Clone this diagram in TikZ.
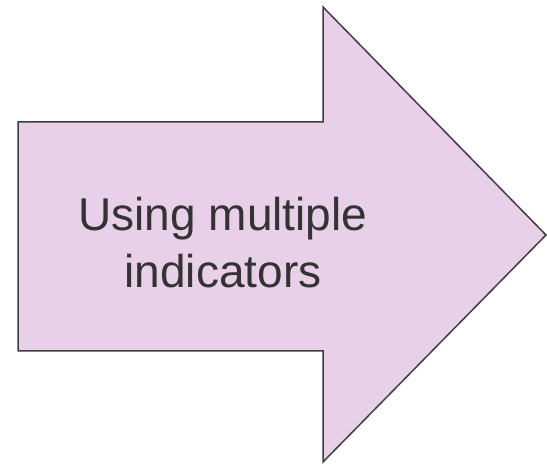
\documentclass[tikz,border=0pt]{standalone}
\usepackage{fontspec}
\setmainfont{Liberation Sans}
\usepackage{tikz}
\usetikzlibrary{positioning}

\definecolor{arrowfill}{HTML}{E8D0E8}
\definecolor{arrowline}{HTML}{3F3F3F}
\definecolor{textgray}{HTML}{333333}

\begin{document}
\begin{tikzpicture}[
    x=1pt, y=-1pt,
    bigarrow/.style={draw=arrowline, fill=arrowfill, line width=1.5pt, line join=miter},
    label/.style={text=textgray, align=center, font=\fontsize{46}{57}\selectfont}
]
    \useasboundingbox (0,0) rectangle (547,465);
    % arrow outline
    \draw[bigarrow] (18,122) -- (323,122) -- (323,7) -- (546,235)
        -- (323,462) -- (323,351) -- (18,351) -- cycle;
    \node[label] (indicators) at (223,243) {Using multiple\\indicators};
\end{tikzpicture}
\end{document}
